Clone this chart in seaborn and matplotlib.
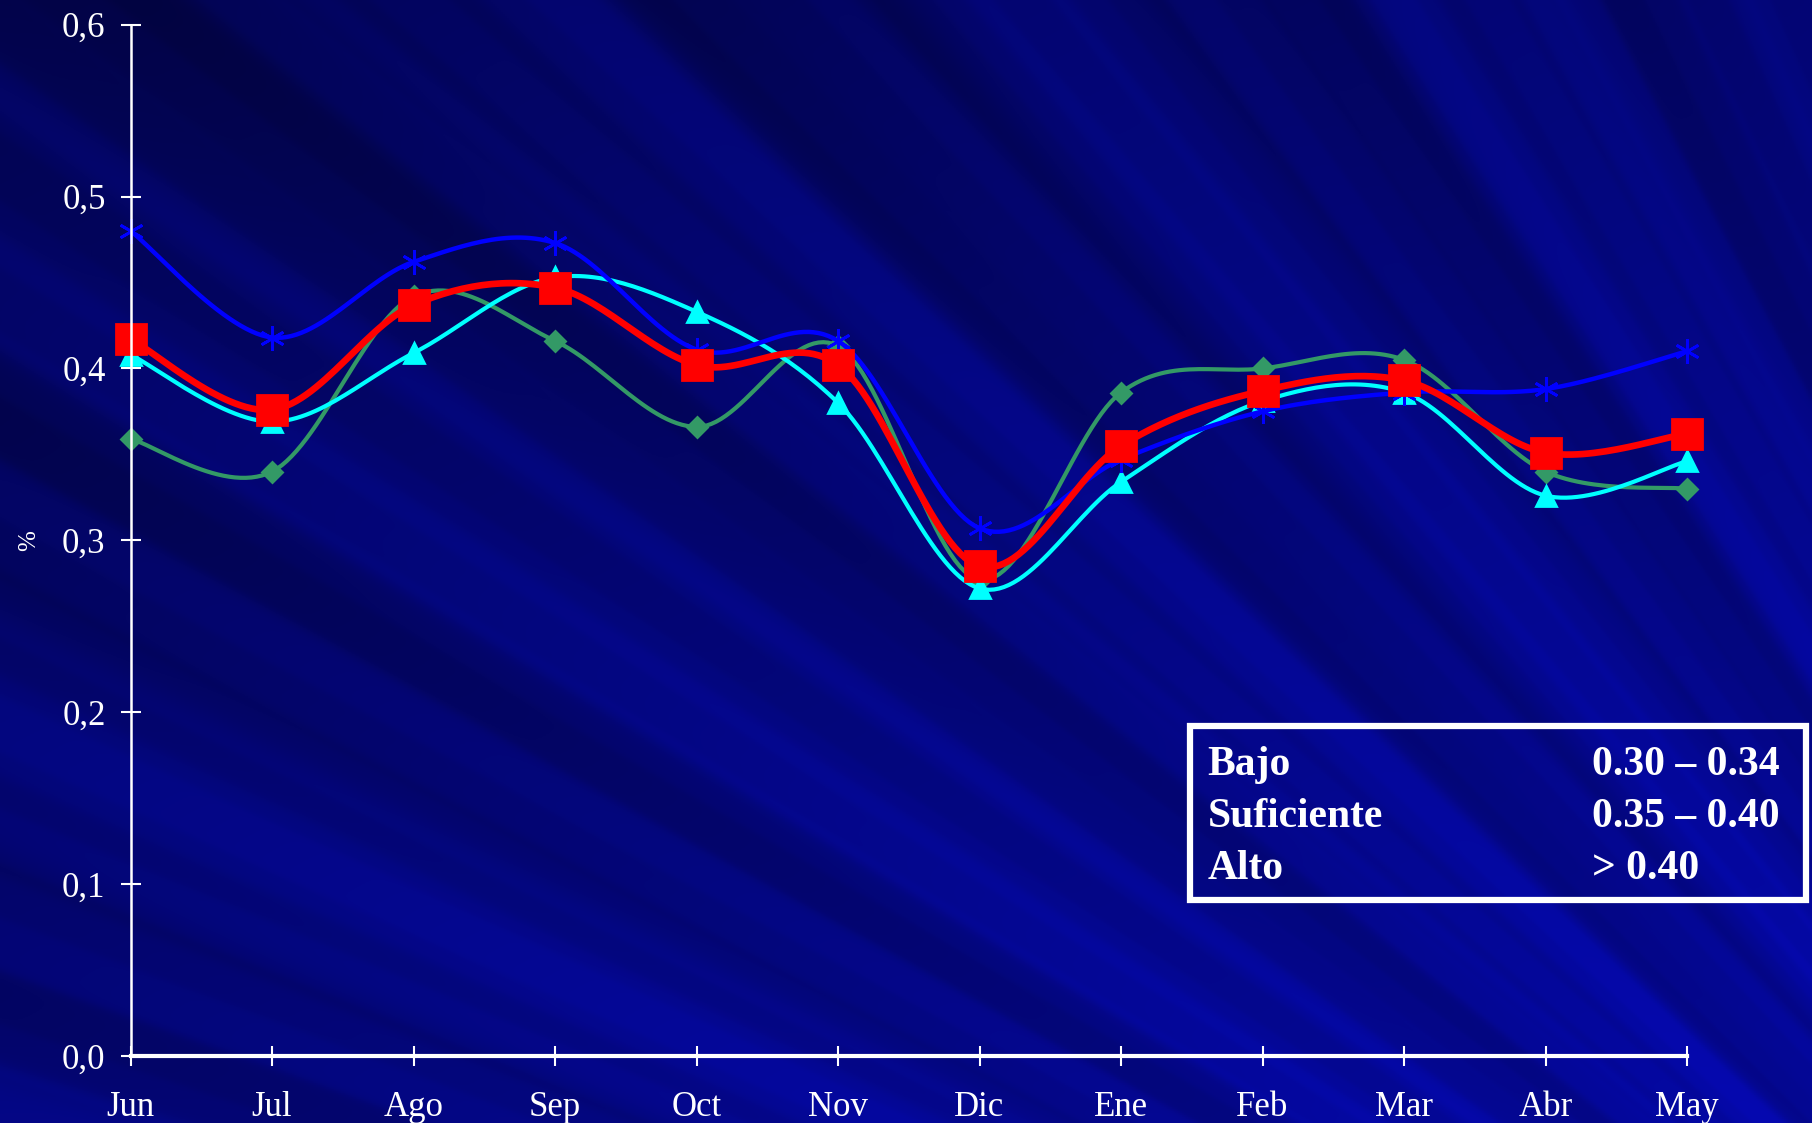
import numpy as np
import matplotlib
matplotlib.use("Agg")
import matplotlib.pyplot as plt
import seaborn as sns
from matplotlib.patches import Rectangle

# datos
meses = ["Jun", "Jul", "Ago", "Sep", "Oct", "Nov", "Dic", "Ene", "Feb", "Mar", "Abr", "May"]
azul = [0.480, 0.418, 0.462, 0.473, 0.411, 0.416, 0.307, 0.347, 0.375, 0.386, 0.388, 0.410]
cian = [0.408, 0.369, 0.409, 0.453, 0.433, 0.380, 0.272, 0.334, 0.381, 0.386, 0.326, 0.346]
verde = [0.359, 0.340, 0.442, 0.416, 0.366, 0.413, 0.277, 0.386, 0.400, 0.405, 0.340, 0.330]
rojo = [0.417, 0.376, 0.437, 0.447, 0.402, 0.402, 0.285, 0.355, 0.387, 0.393, 0.351, 0.362]

y_ticks = [0.0, 0.1, 0.2, 0.3, 0.4, 0.5, 0.6]
y_labels = ["0,0", "0,1", "0,2", "0,3", "0,4", "0,5", "0,6"]

niveles = ["Bajo", "Suficiente", "Alto"]
rangos = ["0.30 \u2013 0.34", "0.35 \u2013 0.40", "> 0.40"]

W, H = 1812, 1123


def suavizar(vals, n=30):
    # curva suavizada tipo excel (bezier con tangentes catmull-rom)
    pts = np.column_stack([np.arange(len(vals)), vals]).astype(float)
    ext = np.vstack([pts[0], pts, pts[-1]])
    t = np.linspace(0, 1, n)[:, None]
    out = []
    for i in range(len(pts) - 1):
        p0, p1, p2, p3 = ext[i], ext[i + 1], ext[i + 2], ext[i + 3]
        c1 = p1 + (p2 - p0) / 6
        c2 = p2 - (p3 - p1) / 6
        seg = (1 - t) ** 3 * p1 + 3 * (1 - t) ** 2 * t * c1 + 3 * (1 - t) * t ** 2 * c2 + t ** 3 * p2
        out.append(seg if i == 0 else seg[1:])
    return np.vstack(out)


sns.set_style("white")
plt.rcParams["font.family"] = ["Liberation Serif", "DejaVu Serif"]

fig = plt.figure(figsize=(W / 100, H / 100), dpi=100)

# fondo azul con rayas
bg = fig.add_axes([0, 0, 1, 1], zorder=-5)
X, Y = np.meshgrid(np.linspace(0, W, 900), np.linspace(0, H, 560))
base = 0.32 + 0.14 * (X / W) + 0.16 * (Y / H)
ang = np.arctan2(Y - 1900, X - 2600)
rayas = (0.035 * np.tanh(4 * np.sin(ang * 41)) + 0.025 * np.tanh(4 * np.sin(ang * 97 + 1.3))
         + 0.015 * np.tanh(4 * np.sin(ang * 173 + 0.4)))
b = np.clip(base + rayas, 0, 1)
img = np.dstack([0.03 * b, 0.05 * b, 1.0 * b])
img = np.clip(img, 0, 1)
bg.imshow(img, extent=[0, 1, 0, 1], aspect="auto", origin="upper")
bg.axis("off")

ax = fig.add_axes([130.6 / W, 0.0597, (1687 - 130.6) / W, 0.978 - 0.0597])
ax.patch.set_alpha(0)

x = np.arange(len(meses))
series = [
    (verde, "#339966", 3.0, "D", 10),
    (cian, "#00FFFF", 3.0, "^", 15),
    (azul, "#0000FF", 3.2, (6, 2, 0), 18),
    (rojo, "#FF0000", 4.8, "s", 21),
]
for vals, col, lw, mk, ms in series:
    c = suavizar(vals)
    sns.lineplot(x=c[:, 0], y=c[:, 1], ax=ax, color=col, lw=lw, sort=False,
                 estimator=None, clip_on=False)
    ax.plot(x, vals, ls="none", marker=mk, ms=ms, color=col, mec=col,
            mew=2.0, clip_on=False)

ax.set_xlim(0, 11)
ax.set_ylim(0, 0.6)
ax.set_xticks(x)
ax.set_xticklabels(meses)
ax.set_yticks(y_ticks)
ax.set_yticklabels(y_labels)
ax.set_ylabel("%", color="white", fontsize=18, labelpad=16)
for s in ["top", "right"]:
    ax.spines[s].set_visible(False)
ax.spines["left"].set_color("white")
ax.spines["left"].set_linewidth(1.8)
ax.spines["bottom"].set_color("white")
ax.spines["bottom"].set_linewidth(3)
ax.tick_params(axis="both", direction="inout", length=14, width=1.5,
               colors="white", labelsize=25, bottom=True, left=True)
ax.tick_params(axis="x", pad=18)
ax.tick_params(axis="y", pad=11)

# cuadro de niveles
fig.patches.append(Rectangle((1190 / W, 1 - 900 / H), (1806 - 1190) / W, (900 - 726) / H,
                             transform=fig.transFigure, fill=False,
                             edgecolor="white", lw=4.5))
filas_y = [0.3188, 0.2725, 0.2262]
for nivel, rango, yy in zip(niveles, rangos, filas_y):
    fig.text(0.6665, yy, nivel, color="white", fontsize=30, fontweight="bold",
             va="center", ha="left")
    fig.text(0.8788, yy, rango, color="white", fontsize=30, fontweight="bold",
             va="center", ha="left")

fig.savefig("out.png", dpi=100)
plt.close(fig)
